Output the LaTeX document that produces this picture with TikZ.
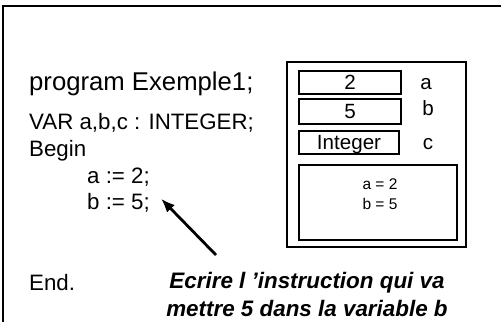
\documentclass[tikz,border=0pt]{standalone}
\usepackage{fontspec}
\setmainfont{Liberation Sans}
\usetikzlibrary{arrows.meta}
\tikzset{
  code/.style={anchor=base west,inner sep=0pt,font=\fontsize{22.3}{26}\selectfont},
  title/.style={code,font=\fontsize{25.7}{30}\selectfont},
  cell/.style={draw,line width=1.6pt,minimum width=102pt,minimum height=23pt,
    inner sep=0pt,text height=16pt,text depth=3pt,font=\fontsize{20.6}{24}\selectfont},
  varname/.style={anchor=base,inner sep=0pt,font=\fontsize{20.6}{24}\selectfont},
  screen/.style={draw,line width=1.6pt},
  output/.style={anchor=base,inner sep=0pt,font=\fontsize{15.5}{18}\selectfont},
  note/.style={align=center,inner sep=0pt,font=\fontsize{22.4}{27.3}\selectfont\bfseries\itshape},
  pointer/.style={-{Latex[length=14pt,width=11pt]},line width=2.8pt},
}

\begin{document}
\begin{tikzpicture}[x=1pt,y=-1pt]
  \useasboundingbox (0,0) rectangle (501,322);
  \draw[line width=1.5pt] (501,6) -| (3,322);

  % the program
  \node[title] (prog) at (29,90) {program Exemple1;};
  \node[code] (decl) at (29,129) {VAR a,b,c : INTEGER;};
  \node[code] (begin) at (29,156.7) {Begin};
  \node[code] (aassign) at (87,183.3) {a := 2;};
  \node[code] (bassign) at (87,209.3) {b := 5;};
  \node[code] (end) at (29,290) {End.};

  % the memory
  \draw[screen] (287,62) rectangle (466,247);
  \node[cell] (cella) at (350,82.5) {2};
  \node[cell,minimum height=25pt] (cellb) at (350,111.5) {5};
  \node[cell,minimum width=100pt] (cellc) at (349,142.5) {Integer};
  \node[varname] (namea) at (426,89) {a};
  \node[varname] (nameb) at (428,115) {b};
  \node[varname] (namec) at (428,149) {c};

  \draw[screen] (299,165) rectangle (457,240);
  \node[output] (outa) at (380,189) {a = 2};
  \node[output] (outb) at (380,209) {b = 5};

  % the question
  \node[note,anchor=base] (question) at (307,316)
    {Ecrire l ’instruction qui va\\mettre 5 dans la variable b};
  \coordinate (tail) at (216,255);
  \draw[pointer] (tail) -- ([shift={(11,-4)}]bassign.east);
\end{tikzpicture}
\end{document}
